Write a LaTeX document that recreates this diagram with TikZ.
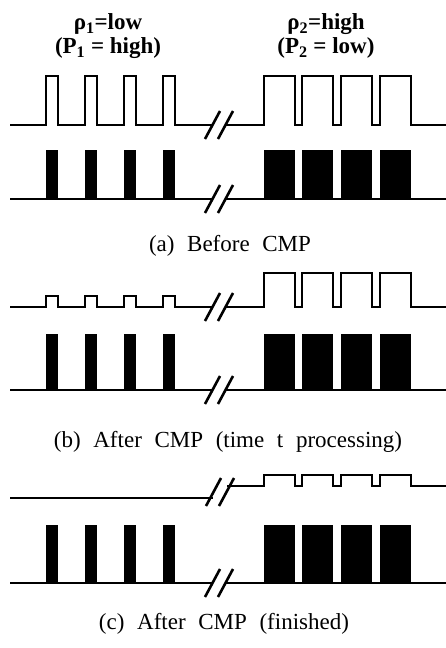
\documentclass[tikz,border=0pt]{standalone}
\usepackage{fontspec}
\setmainfont{Liberation Serif}
\newfontfamily\capfont[WordSpace=2.2]{Liberation Serif}
\usepackage{tikz}
\usetikzlibrary{positioning}

\begin{document}
\begin{tikzpicture}[x=1pt, y=-1pt,
        wave/.style={line width=2.2pt, line join=miter},
        lbl/.style={font=\bfseries\fontsize{23}{24}\selectfont, align=center, inner sep=0pt},
        captxt/.style={font=\capfont\fontsize{23}{25}\selectfont, inner sep=0pt},
        brk/.pic={\draw[line width=2.6pt] (-14,14) -- (1,-14) (-1,14) -- (14,-14);}
      ]
        \useasboundingbox (0,0) rectangle (446,648);
        \node[lbl] (rho1) at (108,36) {ρ\textsubscript{1}=low\\(P\textsubscript{1} = high)};
        \node[lbl] (rho2) at (326,36) {ρ\textsubscript{2}=high\\(P\textsubscript{2} = low)};
        % (a)
        \draw[wave] (10,125) \foreach \x in {46,85,124,163} {-- (\x,125) |- (\x+12,76) |- (\x+12,125)} -- (212,125);
        \draw[wave] (226,125) \foreach \x in {264,302,341,380} {-- (\x,125) |- (\x+31,76) |- (\x+31,125)} -- (446,125);
        \pic at (219,125) {brk};
        \node[captxt] (capa) at (230,246) {(a) Before CMP};
        % (b)
        \draw[wave] (10,307) \foreach \x in {46,85,124,163} {-- (\x,307) |- (\x+12,296) |- (\x+12,307)} -- (212,307);
        \draw[wave] (226,307) \foreach \x in {264,302,341,380} {-- (\x,307) |- (\x+31,273) |- (\x+31,307)} -- (446,307);
        \pic at (219,307) {brk};
        \node[captxt] (capb) at (228,442) {(b) After CMP (time t processing)};
        % (c)
        \draw[wave] (10,498) -- (213,498);
        \draw[wave] (227,486) \foreach \x in {264,302,341,380} {-- (\x,486) |- (\x+31,475) |- (\x+31,486)} -- (446,486);
        \pic at (220,492) {brk};
        \node[captxt] (capc) at (224,624) {(c) After CMP (finished)};
        % bars
        \foreach \yb/\h in {199/49, 390/56, 583/58} {
          \draw[wave] (10,\yb) -- (212,\yb) (226,\yb) -- (446,\yb);
          \foreach \x in {46,85,124,163} \fill (\x,\yb) rectangle ++(12,-\h);
          \foreach \x in {264,302,341,380} \fill (\x,\yb) rectangle ++(31,-\h);
          \pic at (219,\yb) {brk};
        }
      \end{tikzpicture}
\end{document}
